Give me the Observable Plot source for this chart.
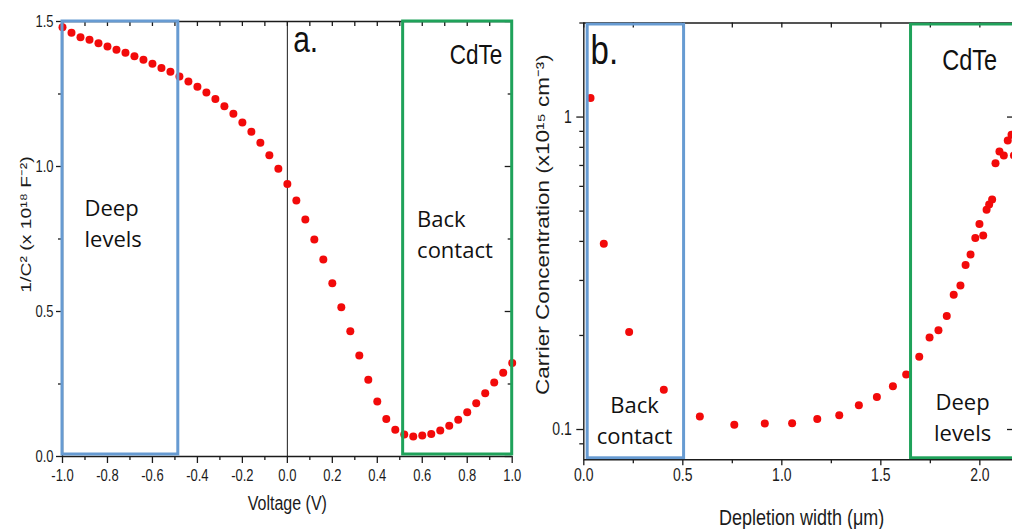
<!DOCTYPE html>
<html>
<head>
<meta charset="utf-8">
<script src="https://cdn.jsdelivr.net/npm/d3@7"></script>
<script src="https://cdn.jsdelivr.net/npm/@observablehq/plot@0.6"></script>
<style>
  html, body { margin: 0; padding: 0; background: #fff; overflow: hidden; }
  #figure { position: relative; width: 1012px; height: 529px; overflow: hidden; }
  #figure svg { position: absolute; top: 0; }
</style>
</head>
<body>
<div id="figure"></div>
<script>
// ---------- Panel a: Mott–Schottky (1/C² vs bias) ----------
const voltage = [
  -1.00, -0.96, -0.92, -0.88, -0.84, -0.80, -0.76, -0.72, -0.68, -0.64,
  -0.60, -0.56, -0.52, -0.48, -0.44, -0.40, -0.36, -0.32, -0.28, -0.24,
  -0.20, -0.16, -0.12, -0.08, -0.04, 0.00, 0.04, 0.08, 0.12, 0.16,
  0.20, 0.24, 0.28, 0.32, 0.36, 0.40, 0.44, 0.48, 0.52, 0.56,
  0.60, 0.64, 0.68, 0.72, 0.76, 0.80, 0.84, 0.88, 0.92, 0.96, 1.00
];
const invC2 = [
  1.480, 1.461, 1.446, 1.437, 1.425, 1.414, 1.403, 1.392, 1.380, 1.368,
  1.354, 1.340, 1.327, 1.310, 1.293, 1.275, 1.255, 1.233, 1.208, 1.182,
  1.152, 1.120, 1.082, 1.039, 0.992, 0.940, 0.883, 0.817, 0.748, 0.679,
  0.597, 0.515, 0.432, 0.348, 0.265, 0.190, 0.129, 0.092, 0.076, 0.069,
  0.072, 0.078, 0.090, 0.106, 0.127, 0.153, 0.184, 0.218, 0.255, 0.289, 0.322
];
const aXDomain = [-1, 1];
const aYDomain = [0, 1.5];
const aXTicks = [-1.0, -0.8, -0.6, -0.4, -0.2, 0.0, 0.2, 0.4, 0.6, 0.8, 1.0];
const aXMinor = [-0.9, -0.7, -0.5, -0.3, -0.1, 0.1, 0.3, 0.5, 0.7, 0.9];
const aYTicks = [0.0, 0.5, 1.0, 1.5];
const aYMinor = [0.25, 0.75, 1.25];
const aRegions = [
  {name: "Deep levels", from: -1.0, to: -0.485},
  {name: "Back contact", from: 0.515, to: 1.0}
];
const aNotes = [
  {text: "Deep\nlevels", x: -0.902, y: 0.722},
  {text: "Back\ncontact", x: 0.577, y: 0.684}
];
const aTitleX = "Voltage (V)";
const aTitleY = "1/C² (x 10¹⁸ F⁻²)";

// ---------- Panel b: carrier profile vs depletion width ----------
const depth = [
  0.034, 0.101, 0.229, 0.404, 0.586, 0.760, 0.914, 1.052, 1.179, 1.290,
  1.389, 1.480, 1.561, 1.628, 1.694, 1.746, 1.791, 1.833, 1.868, 1.902,
  1.928, 1.953, 1.977, 1.998, 2.017, 2.034, 2.047, 2.062, 2.079, 2.099,
  2.121, 2.141, 2.160, 2.172
];
const carrier = [
  1.15, 0.393, 0.205, 0.134, 0.110, 0.1035, 0.1045, 0.1048, 0.108, 0.111,
  0.1196, 0.127, 0.1375, 0.150, 0.171, 0.197, 0.208, 0.231, 0.270, 0.289,
  0.336, 0.363, 0.410, 0.455, 0.418, 0.505, 0.525, 0.545, 0.712, 0.776,
  0.754, 0.842, 0.878, 0.754
];
const bXDomain = [0, 2.175];
const bYDomain = [0.08, 2];
const bXTicks = [0.0, 0.5, 1.0, 1.5, 2.0];
const bXMinor = [0.25, 0.75, 1.25, 1.75];
const bYTicks = [0.1, 1];
const bYMinor = [0.09, 0.2, 0.3, 0.4, 0.5, 0.6, 0.7, 0.8, 0.9, 2];
const bRegions = [
  {name: "Back contact", from: 0.012, to: 0.514},
  {name: "Deep levels", from: 1.645, to: 2.4}
];
const bNotes = [
  {text: "Back\ncontact", x: 0.256, y: 0.0898},
  {text: "Deep\nlevels", x: 1.913, y: 0.092}
];
const bTitleX = "Depletion width (μm)";
const bTitleY = "Carrier Concentration (x10¹⁵ cm⁻³)";

// ---------- shared styling ----------
const SANS = "'Liberation Sans', Arial, sans-serif";
const NOTE_FONT = "'Open Sans', 'Noto Sans', sans-serif";
const INK = "#1b1b1b";
const RED = "#f20a0a";
const BLUE = "#679bd2";
const GREEN = "#1fa25a";
const TALL = 1.25; // figure lettering is set tall and narrow
const fmt1 = d => d.toFixed(1);

// Stretch the Arial-style lettering along the page's vertical direction;
// the region notes (set in NOTE_FONT) keep their natural proportions.
function tallLettering(svg) {
  d3.select(svg).selectAll("text").each(function () {
    if (this.closest('[font-family*="Open Sans"]')) return;
    let t = this.getAttribute("transform");
    if (!t) {
      const x = +this.getAttribute("x") || 0, y = +this.getAttribute("y") || 0;
      this.removeAttribute("x"); this.removeAttribute("y");
      t = `translate(${x},${y})`;
    }
    const rotated = /rotate\(\s*-90/.test(t);
    this.setAttribute("transform", t + (rotated ? ` scale(${TALL},1)` : ` scale(1,${TALL})`));
  });
}

const figure = document.getElementById("figure");

// ----- panel a -----
{
  const width = 530, height = 529;
  const mL = 62, mR = 18.3, mT = 21, mB = 73;
  const plotW = width - mL - mR, plotH = height - mT - mB;
  const chart = Plot.plot({
    width, height,
    marginLeft: mL, marginRight: mR, marginTop: mT, marginBottom: mB,
    x: {domain: aXDomain},
    y: {domain: aYDomain},
    style: {fontFamily: SANS, fontSize: "13px", color: INK, background: "transparent", overflow: "visible"},
    marks: [
      // frame lines and the zero-bias line
      Plot.ruleX([aXDomain[0]], {stroke: INK, strokeWidth: 1.4}),
      Plot.ruleY(aYDomain, {stroke: INK, strokeWidth: 1.4}),
      Plot.ruleX([0], {stroke: INK, strokeWidth: 1}),
      // bottom axis
      Plot.axisX({ticks: aXTicks, tickSize: 7, tickPadding: 6, tickFormat: fmt1, label: null, stroke: INK, strokeWidth: 1.3}),
      Plot.ruleX(aXMinor, {insetTop: plotH, insetBottom: -4, stroke: INK, strokeWidth: 1.3}),
      // top inward ticks
      Plot.ruleX([...aXTicks, ...aXMinor], {insetBottom: plotH - 5, stroke: INK, strokeWidth: 1.3}),
      // left axis
      Plot.axisY({ticks: aYTicks, tickSize: 6, tickPadding: 3, tickFormat: fmt1, label: null, stroke: INK, strokeWidth: 1.3}),
      Plot.ruleY(aYMinor, {insetLeft: -4, insetRight: plotW, stroke: INK, strokeWidth: 1.3}),
      // right inward ticks
      Plot.ruleY(aYTicks, {insetLeft: plotW - 7, stroke: INK, strokeWidth: 1.3}),
      Plot.ruleY(aYMinor, {insetLeft: plotW - 4, stroke: INK, strokeWidth: 1.3}),
      // data
      Plot.dot(invC2, {x: (d, i) => voltage[i], y: d => d, r: 4, fill: RED, stroke: "none"}),
      // highlighted regions
      Plot.rect(aRegions, {x1: "from", x2: "to", y1: aYDomain[0], y2: aYDomain[1], insetBottom: 2,
        fill: "none", stroke: (d, i) => i === 0 ? BLUE : GREEN, strokeWidth: 3}),
      // annotations
      Plot.text(aNotes, {x: "x", y: "y", text: "text", textAnchor: "start", lineAnchor: "bottom",
        lineHeight: 1.4, fontFamily: NOTE_FONT, fontSize: 22, fill: "#111"}),
      Plot.text(["a."], {x: 0.026, y: 1.394, text: d => d, textAnchor: "start", lineAnchor: "bottom", fontSize: 30, fill: "#111"}),
      Plot.text(["CdTe"], {x: 0.956, y: 1.352, text: d => d, textAnchor: "end", lineAnchor: "bottom", fontSize: 22.5, fill: "#111"}),
      // axis titles
      Plot.text([aTitleX], {frameAnchor: "bottom", text: d => d, dy: 53, lineAnchor: "bottom", fontSize: 16, fill: INK}),
      Plot.text([aTitleY], {frameAnchor: "left", text: d => d, rotate: -90, dx: -32, dy: -14.5,
        textAnchor: "middle", lineAnchor: "bottom", fontSize: 15.5, fill: INK})
    ]
  });
  tallLettering(chart);
  chart.style.left = "0px";
  figure.appendChild(chart);
}

// ----- panel b -----
{
  const width = 494, height = 529;
  const mL = 63.3, mR = 0, mT = 22.5, mB = 69.7;
  const plotW = width - mL - mR, plotH = height - mT - mB;
  const chart = Plot.plot({
    width, height,
    marginLeft: mL, marginRight: mR, marginTop: mT, marginBottom: mB,
    x: {domain: bXDomain},
    y: {type: "log", domain: bYDomain},
    style: {fontFamily: SANS, fontSize: "14px", color: INK, background: "transparent", overflow: "visible"},
    marks: [
      Plot.ruleX([bXDomain[0]], {stroke: INK, strokeWidth: 1.4}),
      Plot.ruleY(bYDomain, {stroke: INK, strokeWidth: 1.4}),
      // bottom axis
      Plot.axisX({ticks: bXTicks, tickSize: 6, tickPadding: 3, tickFormat: fmt1, label: null, stroke: INK, strokeWidth: 1.3}),
      Plot.ruleX(bXMinor, {insetTop: plotH, insetBottom: -4, stroke: INK, strokeWidth: 1.3}),
      // top inward ticks
      Plot.ruleX([...bXTicks, ...bXMinor], {insetBottom: plotH - 5, stroke: INK, strokeWidth: 1.3}),
      // left axis
      Plot.axisY({ticks: bYTicks, tickSize: 7, tickPadding: 5, tickFormat: d => String(d), label: null, stroke: INK, strokeWidth: 1.3}),
      Plot.ruleY(bYMinor, {insetLeft: -4, insetRight: plotW, stroke: INK, strokeWidth: 1.3}),
      // right inward ticks
      Plot.ruleY(bYTicks, {insetLeft: plotW - 7, stroke: INK, strokeWidth: 1.3}),
      // data
      Plot.dot(carrier, {x: (d, i) => depth[i], y: d => d, r: 4, fill: RED, stroke: "none", clip: true}),
      // highlighted regions
      Plot.rect(bRegions, {x1: "from", x2: "to", y1: bYDomain[0], y2: bYDomain[1], inset: 1.5,
        fill: "none", stroke: (d, i) => i === 0 ? BLUE : GREEN, strokeWidth: 3, clip: true}),
      // annotations
      Plot.text(bNotes, {x: "x", y: "y", text: "text", textAnchor: "middle", lineAnchor: "bottom",
        lineHeight: 1.42, fontFamily: NOTE_FONT, fontSize: 22, fill: "#111"}),
      Plot.text(["b."], {x: 0.034, y: 1.483, text: d => d, textAnchor: "start", lineAnchor: "bottom", fontSize: 33, fill: "#111"}),
      Plot.text(["CdTe"], {x: 1.81, y: 1.411, text: d => d, textAnchor: "start", lineAnchor: "bottom", fontSize: 23.5, fill: "#111"}),
      // axis titles
      Plot.text([bTitleX], {x: 1.1, frameAnchor: "bottom", text: d => d, dy: 64.7, lineAnchor: "bottom", fontSize: 18, fill: INK}),
      Plot.text([bTitleY], {frameAnchor: "left", text: d => d, rotate: -90, dx: -35, dy: -16.7,
        textAnchor: "middle", lineAnchor: "bottom", fontSize: 18, fill: INK})
    ]
  });
  tallLettering(chart);
  chart.style.left = "520px";
  figure.appendChild(chart);
}
</script>
</body>
</html>
